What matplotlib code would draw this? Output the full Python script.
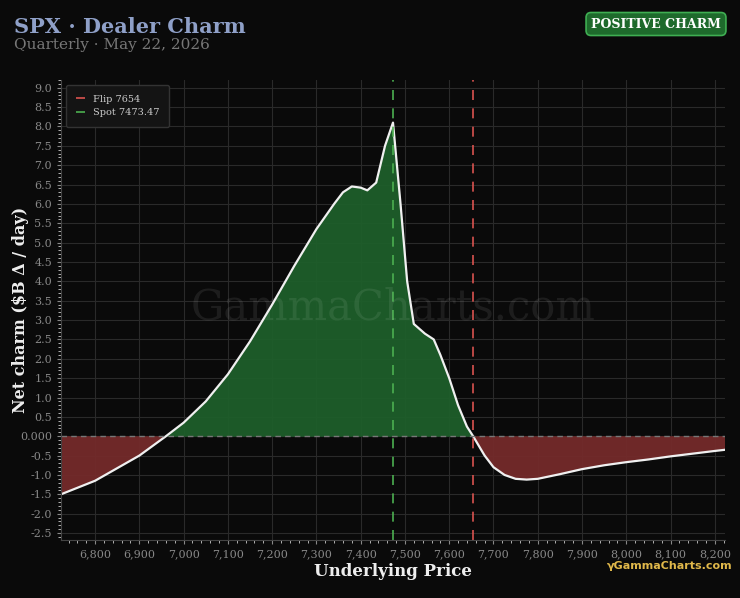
import matplotlib
matplotlib.use("Agg")
import matplotlib.pyplot as plt
import numpy as np
from matplotlib.ticker import MultipleLocator, FuncFormatter

prices = [6723, 6800, 6900, 6960, 7000, 7050, 7100, 7150, 7200, 7250, 7300, 7340, 7360, 7380, 7400, 7415, 7435,
          7455, 7473, 7490, 7505, 7520, 7545, 7565, 7580, 7600, 7620, 7640, 7654, 7680, 7700, 7725, 7750, 7775,
          7800, 7850, 7900, 7950, 8000, 8050, 8100, 8150, 8200, 8223]
charm = [-1.5, -1.15, -0.5, 0.0, 0.35, 0.9, 1.6, 2.45, 3.4, 4.4, 5.35, 6.0, 6.3, 6.45, 6.42, 6.35, 6.55,
         7.5, 8.1, 6.0, 4.0, 2.9, 2.65, 2.5, 2.1, 1.5, 0.8, 0.25, 0.0, -0.5, -0.8, -1.0, -1.1, -1.12,
         -1.1, -0.98, -0.85, -0.75, -0.67, -0.6, -0.52, -0.45, -0.38, -0.35]
flip = 7654
spot = 7473.47

plt.rcParams['font.family'] = ['DejaVu Serif']
bg = '#0a0a0a'
fig = plt.figure(figsize=(7.4, 5.98), dpi=100, facecolor=bg)
ax = fig.add_axes([61/740, 58/598, 664/740, 460/598], facecolor=bg)
x = np.array(prices); y = np.array(charm)
ax.fill_between(x, y, 0, where=y >= 0, interpolate=True, color='#1e5e2a', alpha=0.95, lw=0)
ax.fill_between(x, y, 0, where=y <= 0, interpolate=True, color='#742a2a', alpha=0.95, lw=0)
ax.plot(x, y, color='#f0f0f0', lw=1.6)
ax.axhline(0, color='#777777', lw=1, ls=(0, (4, 3)))
ax.axvline(flip, color='#d9534f', lw=1.2, ls=(0, (6, 5)), label=f'Flip {flip}')
ax.axvline(spot, color='#4caf50', lw=1.2, ls=(0, (6, 5)), label=f'Spot {spot}')
ax.set_xlim(6723, 8223)
ax.set_ylim(-2.68, 9.2)
ax.yaxis.set_major_locator(MultipleLocator(0.5))
ax.yaxis.set_major_formatter(FuncFormatter(lambda v, p: '0.000' if abs(v) < 1e-9 else f'{v:.1f}'))
ax.xaxis.set_major_locator(MultipleLocator(100))
ax.xaxis.set_major_formatter(FuncFormatter(lambda v, p: f'{int(v):,}'))
ax.xaxis.set_minor_locator(MultipleLocator(20))
ax.yaxis.set_minor_locator(MultipleLocator(0.1))
ax.grid(True, which='major', color='#2a2a2a', lw=0.8)
ax.set_axisbelow(True)
ax.tick_params(colors='#888888', labelsize=8, which='major', length=3)
ax.tick_params(which='minor', colors='#cccccc', length=2)
for s in ['top', 'right']:
    ax.spines[s].set_visible(False)
for s in ['left', 'bottom']:
    ax.spines[s].set_color('#444444')
ax.set_xlabel('Underlying Price', color='#eeeeee', fontsize=12, fontweight='bold', labelpad=3)
ax.set_ylabel('Net charm ($B Δ / day)', color='#eeeeee', fontsize=11.5, fontweight='bold')
ax.yaxis.set_label_coords(-0.048, 0.5)
leg = ax.legend(loc='upper left', fontsize=7, facecolor='#141414', edgecolor='#333333',
                labelcolor='#cccccc', handlelength=1, borderpad=1, framealpha=1)
ax.text(0.5, 0.505, 'GammaCharts.com', transform=ax.transAxes, ha='center', va='center',
        fontsize=30, color='#ffffff', alpha=0.08)
fig.text(14/740, 1-27/598, 'SPX · Dealer Charm', color='#8fa0c8', fontsize=15, fontweight='bold', va='center')
fig.text(14/740, 1-45/598, 'Quarterly · May 22, 2026', color='#777777', fontsize=11, va='center')
fig.text(656/740, 1-24/598, 'POSITIVE CHARM', color='white', fontsize=9, fontweight='bold', ha='center', va='center',
         bbox=dict(boxstyle='round,pad=0.4', fc='#1e6a2c', ec='#3fae52', lw=1.2))
fig.text(732/740, 1-566/598, 'γGammaCharts.com', color='#e0b84a', fontsize=8, fontweight='bold', ha='right', va='center',
         family='DejaVu Sans')
fig.savefig('out.png', dpi=100, facecolor=bg)
